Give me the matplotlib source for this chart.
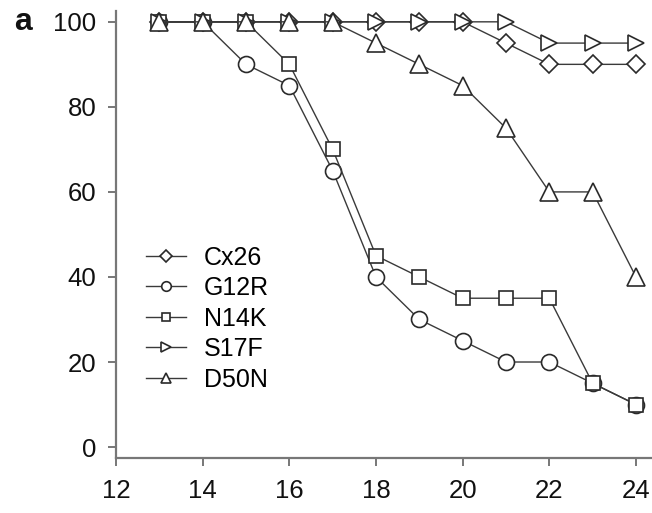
import matplotlib
matplotlib.use("Agg")
import matplotlib.pyplot as plt

plt.rcParams['font.family'] = ['Liberation Sans', 'DejaVu Sans']

days = [13, 14, 15, 16, 17, 18, 19, 20, 21, 22, 23, 24]
cx26 = [100, 100, 100, 100, 100, 100, 100, 100, 95, 90, 90, 90]
g12r = [100, 100, 90, 85, 65, 40, 30, 25, 20, 20, 15, 10]
n14k = [100, 100, 100, 90, 70, 45, 40, 35, 35, 35, 15, 10]
s17f = [100, 100, 100, 100, 100, 100, 100, 100, 100, 95, 95, 95]
d50n = [100, 100, 100, 100, 100, 95, 90, 85, 75, 60, 60, 40]

series = [
    ("Cx26", cx26, "D", 9.5),
    ("G12R", g12r, "o", 11.5),
    ("N14K", n14k, "s", 10),
    ("S17F", s17f, ">", 11.5),
    ("D50N", d50n, "^", 12.5),
]

fig = plt.figure(figsize=(6.52, 5.13), dpi=100)
ax = fig.add_axes([0.178, 0.107, 0.822, 0.872])

for name, vals, mk, ms in series:
    ax.plot(days, vals, color="#3a3a3a", lw=1.0, marker=mk, markersize=ms,
            markerfacecolor="white", markeredgecolor="#2a2a2a",
            markeredgewidth=1.2, label=name)

ax.set_xlim(12, 24.37)
ax.set_ylim(-2.6, 102.6)
ax.set_xticks([12, 14, 16, 18, 20, 22, 24])
ax.set_yticks([0, 20, 40, 60, 80, 100])
for s in ("top", "right"):
    ax.spines[s].set_visible(False)
for s in ("left", "bottom"):
    ax.spines[s].set_color("#777777")
    ax.spines[s].set_linewidth(1.6)
ax.tick_params(direction="out", length=6, width=1.4, color="#777777",
               labelsize=18.5, labelcolor="#111111")
ax.tick_params(axis="y", pad=8)
ax.tick_params(axis="x", pad=9)

leg = ax.legend(loc="center left", bbox_to_anchor=(0.056, 0.312), frameon=False,
                fontsize=18, handlelength=1.6, handletextpad=0.7,
                labelspacing=0.26, markerscale=0.6, borderpad=0,
                borderaxespad=0)

fig.text(0.022, 0.957, "a", fontsize=23, fontweight="bold", color="#111111",
         va="center")

fig.savefig("out.png", dpi=100)
